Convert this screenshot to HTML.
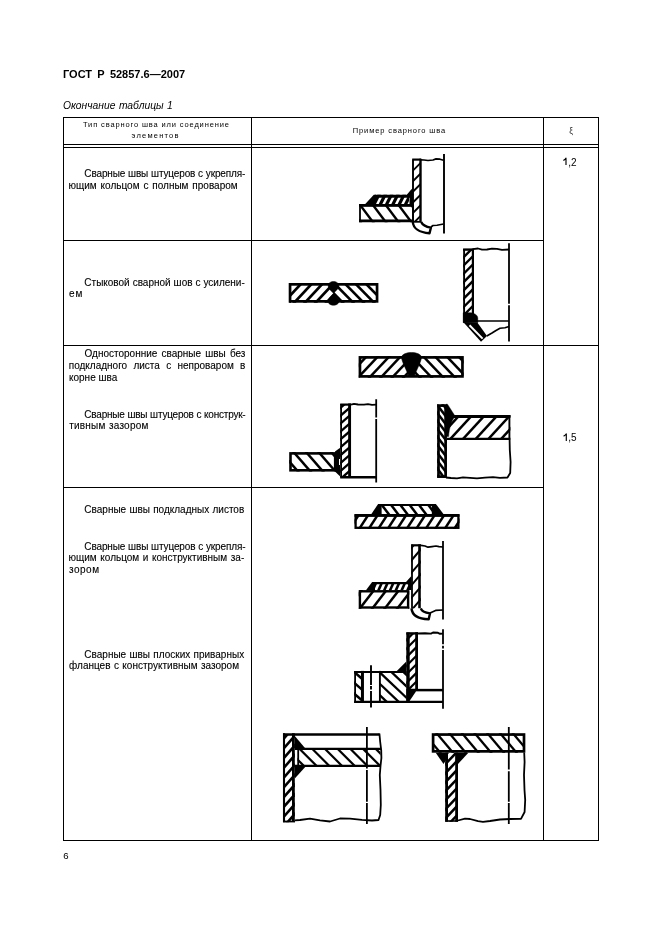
<!DOCTYPE html>
<html><head><meta charset="utf-8">
<style>
html,body{margin:0;padding:0;background:#fff;}
body{width:661px;height:936px;position:relative;overflow:hidden;will-change:transform;font-family:"Liberation Sans",sans-serif;color:#000;}
.t{position:absolute;white-space:pre;line-height:1;}
.b{letter-spacing:0px;-webkit-text-stroke:0.1px #000;}
.j{position:absolute;white-space:nowrap;text-align:justify;text-align-last:justify;line-height:1;letter-spacing:0px;-webkit-text-stroke:0.1px #000;}
.h,.v{position:absolute;background:#000;}
svg{position:absolute;left:0;top:0;}
</style></head><body>
<div class="t" style="left:63px;top:69.39px;font-size:11px;font-weight:bold;word-spacing:2.2px;">ГОСТ Р 52857.6—2007</div>
<div class="t" style="left:63px;top:101.18px;font-size:10.3px;font-style:italic;word-spacing:0.6px;">Окончание таблицы 1</div>
<div class="h" style="left:63px;width:536.25px;top:117px;height:1.25px"></div>
<div class="h" style="left:63px;width:536.25px;top:144px;height:1.25px"></div>
<div class="h" style="left:63px;width:536.25px;top:147px;height:1.25px"></div>
<div class="h" style="left:63px;width:481px;top:240px;height:1.25px"></div>
<div class="h" style="left:63px;width:536.25px;top:345px;height:1.25px"></div>
<div class="h" style="left:63px;width:481px;top:487px;height:1.25px"></div>
<div class="h" style="left:63px;width:536.25px;top:840px;height:1.25px"></div>
<div class="v" style="left:63px;top:117px;height:724.25px;width:1.25px"></div>
<div class="v" style="left:251px;top:117px;height:724.25px;width:1.25px"></div>
<div class="v" style="left:543px;top:117px;height:724.25px;width:1.25px"></div>
<div class="v" style="left:598px;top:117px;height:724.25px;width:1.25px"></div>
<div class="t" style="left:83px;top:120.75px;font-size:7.5px;letter-spacing:0.86px;color:#000;">Тип сварного шва или соединение</div>
<div class="t" style="left:131.6px;top:132.25px;font-size:7.5px;letter-spacing:1.2px;color:#000;">элементов</div>
<div class="t" style="left:352.8px;top:126.95px;font-size:7.5px;letter-spacing:0.88px;color:#000;">Пример сварного шва</div>
<div class="t" style="left:569.3px;top:126.80px;font-size:8.5px;color:#333;">ξ</div>
<div class="t" style="left:568.3px;top:157.53px;font-size:10px;">,2</div>
<div class="t" style="left:568.3px;top:433.44px;font-size:10px;">,5</div>
<div class="j" style="left:84.35px;width:160.9px;top:169.44px;font-size:10.0px;letter-spacing:-0.139px;">Сварные швы штуцеров с укрепля-</div>
<div class="j" style="left:68.55px;width:169.1px;top:181.23px;font-size:10.0px;letter-spacing:0.000px;">ющим кольцом с полным проваром</div>
<div class="j" style="left:84.35px;width:160.4px;top:277.54px;font-size:10.0px;letter-spacing:-0.003px;">Стыковой сварной шов с усилени-</div>
<div class="t b" style="left:69px;top:289.14px;font-size:10.0px;letter-spacing:1px;">ем</div>
<div class="j" style="left:84.55px;width:160.9px;top:349.34px;font-size:10.0px;letter-spacing:0.000px;">Односторонние сварные швы без</div>
<div class="j" style="left:68.75px;width:176.7px;top:361.24px;font-size:10.0px;letter-spacing:0.000px;">подкладного листа с непроваром в</div>
<div class="t b" style="left:69px;top:372.84px;font-size:10.0px;">корне шва</div>
<div class="j" style="left:84.35px;width:161.1px;top:409.64px;font-size:10.0px;letter-spacing:-0.219px;">Сварные швы штуцеров с конструк-</div>
<div class="t b" style="left:69.2px;top:421.44px;font-size:10.0px;letter-spacing:0.2px;word-spacing:-1.2px;">тивным  зазором</div>
<div class="j" style="left:84.35px;width:159.9px;top:505.44px;font-size:10.0px;letter-spacing:0.000px;">Сварные швы подкладных листов</div>
<div class="j" style="left:84.35px;width:161.1px;top:541.74px;font-size:10.0px;letter-spacing:-0.133px;">Сварные швы штуцеров с укрепля-</div>
<div class="j" style="left:68.55px;width:175.7px;top:553.33px;font-size:10.0px;letter-spacing:0.000px;">ющим кольцом и конструктивным за-</div>
<div class="t b" style="left:69px;top:564.83px;font-size:10.0px;letter-spacing:0.5px;">зором</div>
<div class="j" style="left:84.35px;width:159.8px;top:649.74px;font-size:10.0px;letter-spacing:0.000px;">Сварные швы плоских приварных</div>
<div class="j" style="left:69.05px;width:170.0px;top:661.24px;font-size:10.0px;letter-spacing:0.000px;">фланцев с конструктивным зазором</div>
<div class="t" style="left:63.2px;top:850.57px;font-size:9.6px;">6</div>
<svg width="661" height="936" viewBox="0 0 661 936"><defs><clipPath id="c1"><rect x="359.1" y="204.1" width="53.69999999999999" height="18.099999999999994"/></clipPath><clipPath id="c2"><rect x="374.5" y="194.8" width="34.5" height="9.699999999999989"/></clipPath><clipPath id="c3"><rect x="413" y="159.5" width="7.5" height="62.0"/></clipPath><clipPath id="c4"><polygon points="289.4,283 333.5,283 333.5,302.8 289.4,302.8"/></clipPath><clipPath id="c5"><polygon points="333.5,283 378,283 378,302.8 333.5,302.8"/></clipPath><clipPath id="c6"><rect x="463.2" y="249.5" width="9.800000000000011" height="72.5"/></clipPath><clipPath id="c7"><polygon points="358.8,356 411.5,356 411.5,377.8 358.8,377.8"/></clipPath><clipPath id="c8"><polygon points="411.5,356 463.6,356 463.6,377.8 411.5,377.8"/></clipPath><clipPath id="c9"><rect x="289.2" y="452.1" width="46.80000000000001" height="19.5"/></clipPath><clipPath id="c10"><rect x="340.2" y="404" width="9.300000000000011" height="73"/></clipPath><clipPath id="c11"><rect x="437.2" y="404.2" width="9.800000000000011" height="73.60000000000002"/></clipPath><clipPath id="c12"><rect x="447" y="415.1" width="63.39999999999998" height="24.899999999999977"/></clipPath><clipPath id="c13"><rect x="354.5" y="514.2" width="105.0" height="14.799999999999955"/></clipPath><clipPath id="c14"><rect x="380" y="503.9" width="52" height="10.600000000000023"/></clipPath><clipPath id="c15"><rect x="358.7" y="590.1" width="50.60000000000002" height="18.600000000000023"/></clipPath><clipPath id="c16"><rect x="372.5" y="582.1" width="36.5" height="8.399999999999977"/></clipPath><clipPath id="c17"><rect x="411.2" y="545" width="9.600000000000023" height="63.5"/></clipPath><clipPath id="c18"><rect x="354.2" y="670.9" width="7.800000000000011" height="32.0"/></clipPath><clipPath id="c19"><rect x="380" y="670.9" width="26.69999999999999" height="32.0"/></clipPath><clipPath id="c20"><rect x="406.3" y="633" width="10.699999999999989" height="57"/></clipPath><clipPath id="c21"><rect x="283" y="735" width="11.800000000000011" height="87.20000000000005"/></clipPath><clipPath id="c22"><rect x="297.5" y="748" width="83.0" height="18.5"/></clipPath><clipPath id="c23"><rect x="432.1" y="733.2" width="91.89999999999998" height="19.5"/></clipPath><clipPath id="c24"><rect x="445.2" y="752.7" width="12.800000000000011" height="69.0"/></clipPath></defs><path d="M563.4 160.5 L565.1 159.2 L566 158.2 V165" fill="none" stroke="#000" stroke-width="1.15" stroke-linejoin="round"/><path d="M563.6 436.2 L565.4 434.9 L566.3 433.9 V440.9" fill="none" stroke="#000" stroke-width="1.15" stroke-linejoin="round"/><g clip-path="url(#c1)" stroke="#000" stroke-width="2.4"><line x1="306.77" y1="202.1" x2="323.35" y2="224.2"/><line x1="319.57" y1="202.1" x2="336.15" y2="224.2"/><line x1="332.38" y1="202.1" x2="348.95" y2="224.2"/><line x1="345.18" y1="202.1" x2="361.75" y2="224.2"/><line x1="357.98" y1="202.1" x2="374.55" y2="224.2"/><line x1="370.78" y1="202.1" x2="387.35" y2="224.2"/><line x1="383.58" y1="202.1" x2="400.15" y2="224.2"/><line x1="396.38" y1="202.1" x2="412.95" y2="224.2"/><line x1="409.18" y1="202.1" x2="425.75" y2="224.2"/><line x1="421.98" y1="202.1" x2="438.55" y2="224.2"/><line x1="434.78" y1="202.1" x2="451.35" y2="224.2"/><line x1="447.58" y1="202.1" x2="464.15" y2="224.2"/></g><rect x="360" y="205.45" width="53" height="15.4" fill="none" stroke="#000" stroke-width="1.8"/><path d="M359.1 205.45 H412.8" fill="none" stroke="#000" stroke-width="2.7" stroke-linejoin="round"/><path d="M359.1 220.85 H412.8" fill="none" stroke="#000" stroke-width="2.7" stroke-linejoin="round"/><g clip-path="url(#c2)" stroke="#000" stroke-width="3.2"><line x1="354.05" y1="206.5" x2="360.90" y2="192.8"/><line x1="360.35" y1="206.5" x2="367.20" y2="192.8"/><line x1="366.65" y1="206.5" x2="373.50" y2="192.8"/><line x1="372.95" y1="206.5" x2="379.80" y2="192.8"/><line x1="379.25" y1="206.5" x2="386.10" y2="192.8"/><line x1="385.55" y1="206.5" x2="392.40" y2="192.8"/><line x1="391.85" y1="206.5" x2="398.70" y2="192.8"/><line x1="398.15" y1="206.5" x2="405.00" y2="192.8"/><line x1="404.45" y1="206.5" x2="411.30" y2="192.8"/><line x1="410.75" y1="206.5" x2="417.60" y2="192.8"/><line x1="417.05" y1="206.5" x2="423.90" y2="192.8"/><line x1="423.35" y1="206.5" x2="430.20" y2="192.8"/></g><path d="M375 196.3 H412" fill="none" stroke="#000" stroke-width="3.0" stroke-linejoin="round"/><polygon points="364.8,204.5 373.8,194.8 376,194.8 376,204.5" fill="#000"/><polygon points="409.5,204.5 409.5,197.5 406.8,194.8 410.8,190 413,188 413,204.5" fill="#000"/><g clip-path="url(#c3)" stroke="#000" stroke-width="1.9"><line x1="317.60" y1="223.5" x2="383.60" y2="157.5"/><line x1="328.20" y1="223.5" x2="394.20" y2="157.5"/><line x1="338.80" y1="223.5" x2="404.80" y2="157.5"/><line x1="349.40" y1="223.5" x2="415.40" y2="157.5"/><line x1="360.00" y1="223.5" x2="426.00" y2="157.5"/><line x1="370.60" y1="223.5" x2="436.60" y2="157.5"/><line x1="381.20" y1="223.5" x2="447.20" y2="157.5"/><line x1="391.80" y1="223.5" x2="457.80" y2="157.5"/><line x1="402.40" y1="223.5" x2="468.40" y2="157.5"/><line x1="413.00" y1="223.5" x2="479.00" y2="157.5"/><line x1="423.60" y1="223.5" x2="489.60" y2="157.5"/><line x1="434.20" y1="223.5" x2="500.20" y2="157.5"/><line x1="444.80" y1="223.5" x2="510.80" y2="157.5"/><line x1="455.40" y1="223.5" x2="521.40" y2="157.5"/><line x1="466.00" y1="223.5" x2="532.00" y2="157.5"/><line x1="476.60" y1="223.5" x2="542.60" y2="157.5"/><line x1="487.20" y1="223.5" x2="553.20" y2="157.5"/><line x1="497.80" y1="223.5" x2="563.80" y2="157.5"/></g><path d="M413 159.5 V222" fill="none" stroke="#000" stroke-width="1.9" stroke-linejoin="round"/><path d="M420.5 158.7 V222" fill="none" stroke="#000" stroke-width="2.4" stroke-linejoin="round"/><path d="M412.2 159.6 H421" fill="none" stroke="#000" stroke-width="2.2" stroke-linejoin="round"/><path d="M413 221.8 H421" fill="none" stroke="#000" stroke-width="1.8" stroke-linejoin="round"/><path d="M421 159.8 L424 160 L428 160.5 L433 160 L436 158.9 L440 159.2 L443.5 160.2" fill="none" stroke="#000" stroke-width="1.7" stroke-linejoin="round"/><path d="M444 154 V233.4" fill="none" stroke="#000" stroke-width="1.9" stroke-linejoin="round"/><path d="M412.8 222 C413.2 228 419 232.5 429.5 233.2 L430.9 227.6 C426 226.8 422.5 225 421.2 222" fill="none" stroke="#000" stroke-width="2.4" stroke-linejoin="round"/><path d="M431 227 L433 225.5 L437 225.2 L443.5 224" fill="none" stroke="#000" stroke-width="1.6" stroke-linejoin="round"/><g clip-path="url(#c4)" stroke="#000" stroke-width="2.7"><line x1="238.74" y1="304.8" x2="260.87" y2="281"/><line x1="249.44" y1="304.8" x2="271.57" y2="281"/><line x1="260.14" y1="304.8" x2="282.27" y2="281"/><line x1="270.84" y1="304.8" x2="292.97" y2="281"/><line x1="281.54" y1="304.8" x2="303.67" y2="281"/><line x1="292.24" y1="304.8" x2="314.37" y2="281"/><line x1="302.94" y1="304.8" x2="325.07" y2="281"/><line x1="313.64" y1="304.8" x2="335.77" y2="281"/><line x1="324.34" y1="304.8" x2="346.47" y2="281"/><line x1="335.04" y1="304.8" x2="357.17" y2="281"/><line x1="345.74" y1="304.8" x2="367.87" y2="281"/><line x1="356.44" y1="304.8" x2="378.57" y2="281"/><line x1="367.14" y1="304.8" x2="389.27" y2="281"/><line x1="377.84" y1="304.8" x2="399.97" y2="281"/><line x1="388.54" y1="304.8" x2="410.67" y2="281"/><line x1="399.24" y1="304.8" x2="421.37" y2="281"/><line x1="409.94" y1="304.8" x2="432.07" y2="281"/><line x1="420.64" y1="304.8" x2="442.77" y2="281"/></g><g clip-path="url(#c5)" stroke="#000" stroke-width="2.6"><line x1="238.39" y1="281" x2="261.72" y2="304.8"/><line x1="248.79" y1="281" x2="272.12" y2="304.8"/><line x1="259.19" y1="281" x2="282.52" y2="304.8"/><line x1="269.59" y1="281" x2="292.92" y2="304.8"/><line x1="279.99" y1="281" x2="303.32" y2="304.8"/><line x1="290.39" y1="281" x2="313.72" y2="304.8"/><line x1="300.79" y1="281" x2="324.12" y2="304.8"/><line x1="311.19" y1="281" x2="334.52" y2="304.8"/><line x1="321.59" y1="281" x2="344.92" y2="304.8"/><line x1="331.99" y1="281" x2="355.32" y2="304.8"/><line x1="342.39" y1="281" x2="365.72" y2="304.8"/><line x1="352.79" y1="281" x2="376.12" y2="304.8"/><line x1="363.19" y1="281" x2="386.52" y2="304.8"/><line x1="373.59" y1="281" x2="396.92" y2="304.8"/><line x1="383.99" y1="281" x2="407.32" y2="304.8"/><line x1="394.39" y1="281" x2="417.72" y2="304.8"/><line x1="404.79" y1="281" x2="428.12" y2="304.8"/><line x1="415.19" y1="281" x2="438.52" y2="304.8"/></g><rect x="290.05" y="284.35" width="87" height="17" fill="none" stroke="#000" stroke-width="2.7"/><rect x="289.4" y="283" width="1.6" height="19.8" fill="#000"/><path d="M328.2 286 C328 280 339 280 338.8 286 C338.6 289.5 335 291 333.5 293.5 C335 296 338.8 298 338.8 301.5 C338.8 306.5 328.2 306.5 328.2 301.5 C328.2 298 332 296 333.5 293.5 C332 291 328.4 289.5 328.2 286 Z" fill="#000" stroke="#000" stroke-width="0.5" stroke-linejoin="round"/><g clip-path="url(#c6)" stroke="#000" stroke-width="2.4"><line x1="363.60" y1="324" x2="440.10" y2="247.5"/><line x1="371.90" y1="324" x2="448.40" y2="247.5"/><line x1="380.20" y1="324" x2="456.70" y2="247.5"/><line x1="388.50" y1="324" x2="465.00" y2="247.5"/><line x1="396.80" y1="324" x2="473.30" y2="247.5"/><line x1="405.10" y1="324" x2="481.60" y2="247.5"/><line x1="413.40" y1="324" x2="489.90" y2="247.5"/><line x1="421.70" y1="324" x2="498.20" y2="247.5"/><line x1="430.00" y1="324" x2="506.50" y2="247.5"/><line x1="438.30" y1="324" x2="514.80" y2="247.5"/><line x1="446.60" y1="324" x2="523.10" y2="247.5"/><line x1="454.90" y1="324" x2="531.40" y2="247.5"/><line x1="463.20" y1="324" x2="539.70" y2="247.5"/><line x1="471.50" y1="324" x2="548.00" y2="247.5"/><line x1="479.80" y1="324" x2="556.30" y2="247.5"/><line x1="488.10" y1="324" x2="564.60" y2="247.5"/><line x1="496.40" y1="324" x2="572.90" y2="247.5"/><line x1="504.70" y1="324" x2="581.20" y2="247.5"/><line x1="513.00" y1="324" x2="589.50" y2="247.5"/><line x1="521.30" y1="324" x2="597.80" y2="247.5"/><line x1="529.60" y1="324" x2="606.10" y2="247.5"/><line x1="537.90" y1="324" x2="614.40" y2="247.5"/><line x1="546.20" y1="324" x2="622.70" y2="247.5"/><line x1="554.50" y1="324" x2="631.00" y2="247.5"/><line x1="562.80" y1="324" x2="639.30" y2="247.5"/></g><path d="M464.1 249 V322.5" fill="none" stroke="#000" stroke-width="1.9" stroke-linejoin="round"/><path d="M472.9 248.5 V322" fill="none" stroke="#000" stroke-width="2.2" stroke-linejoin="round"/><path d="M463.1 249.6 H473.5" fill="none" stroke="#000" stroke-width="2.4" stroke-linejoin="round"/><path d="M473 249.2 L478 248.5 L482 249.7 L487 249.5 L492 248.6 L497 248.8 L502 249.8 L509 249.5" fill="none" stroke="#000" stroke-width="1.8" stroke-linejoin="round"/><path d="M509 243.2 V303.8 M509 305.2 V341.6" fill="none" stroke="#000" stroke-width="1.8" stroke-linejoin="round"/><path d="M473 321 H509" fill="none" stroke="#000" stroke-width="1.7" stroke-linejoin="round"/><path d="M463.2 312.7 L471 312.7 C475 313.5 477.8 315 477.8 318.5 L477.8 322.7 L463.2 322.7 Z" fill="#000" stroke="#000" stroke-width="0.4" stroke-linejoin="round"/><polygon points="463.2,322 481,341.7 487,336 477.5,322.7" fill="#000"/><line x1="469.5" y1="325.2" x2="482.6" y2="338.6" stroke="#fff" stroke-width="2.0"/><path d="M486.8 336 L492 333 L496 330.5 L500 328.3 L505 327.8 L509 326.5" fill="none" stroke="#000" stroke-width="1.6" stroke-linejoin="round"/><g clip-path="url(#c7)" stroke="#000" stroke-width="2.5"><line x1="310.60" y1="379.8" x2="334.85" y2="354"/><line x1="321.95" y1="379.8" x2="346.20" y2="354"/><line x1="333.30" y1="379.8" x2="357.55" y2="354"/><line x1="344.65" y1="379.8" x2="368.90" y2="354"/><line x1="356.00" y1="379.8" x2="380.25" y2="354"/><line x1="367.35" y1="379.8" x2="391.60" y2="354"/><line x1="378.70" y1="379.8" x2="402.95" y2="354"/><line x1="390.05" y1="379.8" x2="414.30" y2="354"/><line x1="401.40" y1="379.8" x2="425.65" y2="354"/><line x1="412.75" y1="379.8" x2="437.00" y2="354"/><line x1="424.10" y1="379.8" x2="448.35" y2="354"/><line x1="435.45" y1="379.8" x2="459.70" y2="354"/><line x1="446.80" y1="379.8" x2="471.05" y2="354"/><line x1="458.15" y1="379.8" x2="482.40" y2="354"/><line x1="469.50" y1="379.8" x2="493.75" y2="354"/><line x1="480.85" y1="379.8" x2="505.10" y2="354"/><line x1="492.20" y1="379.8" x2="516.45" y2="354"/><line x1="503.55" y1="379.8" x2="527.80" y2="354"/></g><g clip-path="url(#c8)" stroke="#000" stroke-width="2.5"><line x1="304.03" y1="354" x2="328.54" y2="379.8"/><line x1="315.73" y1="354" x2="340.24" y2="379.8"/><line x1="327.43" y1="354" x2="351.94" y2="379.8"/><line x1="339.12" y1="354" x2="363.63" y2="379.8"/><line x1="350.82" y1="354" x2="375.33" y2="379.8"/><line x1="362.52" y1="354" x2="387.03" y2="379.8"/><line x1="374.22" y1="354" x2="398.73" y2="379.8"/><line x1="385.92" y1="354" x2="410.43" y2="379.8"/><line x1="397.62" y1="354" x2="422.13" y2="379.8"/><line x1="409.32" y1="354" x2="433.83" y2="379.8"/><line x1="421.02" y1="354" x2="445.53" y2="379.8"/><line x1="432.72" y1="354" x2="457.23" y2="379.8"/><line x1="444.42" y1="354" x2="468.93" y2="379.8"/><line x1="456.12" y1="354" x2="480.63" y2="379.8"/><line x1="467.82" y1="354" x2="492.33" y2="379.8"/><line x1="479.52" y1="354" x2="504.03" y2="379.8"/><line x1="491.22" y1="354" x2="515.73" y2="379.8"/><line x1="502.92" y1="354" x2="527.43" y2="379.8"/></g><rect x="359.95" y="357.4" width="102.5" height="19" fill="none" stroke="#000" stroke-width="2.7"/><path d="M401.6 357.5 C401.6 350.8 421.4 350.8 421.4 357.5 C421.4 361 418 367 414.3 376 L408.8 376 C405 367 401.6 361 401.6 357.5 Z" fill="#000" stroke="#000" stroke-width="0.5" stroke-linejoin="round"/><g clip-path="url(#c9)" stroke="#000" stroke-width="2.5"><line x1="241.91" y1="450.1" x2="262.36" y2="473.6"/><line x1="254.41" y1="450.1" x2="274.86" y2="473.6"/><line x1="266.91" y1="450.1" x2="287.36" y2="473.6"/><line x1="279.41" y1="450.1" x2="299.86" y2="473.6"/><line x1="291.91" y1="450.1" x2="312.36" y2="473.6"/><line x1="304.41" y1="450.1" x2="324.86" y2="473.6"/><line x1="316.91" y1="450.1" x2="337.36" y2="473.6"/><line x1="329.41" y1="450.1" x2="349.86" y2="473.6"/><line x1="341.91" y1="450.1" x2="362.36" y2="473.6"/><line x1="354.41" y1="450.1" x2="374.86" y2="473.6"/><line x1="366.91" y1="450.1" x2="387.36" y2="473.6"/><line x1="379.41" y1="450.1" x2="399.86" y2="473.6"/></g><rect x="290.5" y="453.40000000000003" width="44.70000000000001" height="16.9" fill="none" stroke="#000" stroke-width="2.6"/><polygon points="335,451.6 340.2,447.7 340.2,476.5 335,471.6" fill="#000"/><rect x="339" y="459" width="1.1" height="6" fill="#fff"/><g clip-path="url(#c10)" stroke="#000" stroke-width="2.3"><line x1="231.37" y1="479" x2="319.92" y2="402"/><line x1="240.46" y1="479" x2="329.00" y2="402"/><line x1="249.54" y1="479" x2="338.09" y2="402"/><line x1="258.62" y1="479" x2="347.18" y2="402"/><line x1="267.71" y1="479" x2="356.26" y2="402"/><line x1="276.79" y1="479" x2="365.34" y2="402"/><line x1="285.88" y1="479" x2="374.43" y2="402"/><line x1="294.96" y1="479" x2="383.51" y2="402"/><line x1="304.05" y1="479" x2="392.60" y2="402"/><line x1="313.13" y1="479" x2="401.68" y2="402"/><line x1="322.22" y1="479" x2="410.77" y2="402"/><line x1="331.30" y1="479" x2="419.85" y2="402"/><line x1="340.39" y1="479" x2="428.94" y2="402"/><line x1="349.47" y1="479" x2="438.02" y2="402"/><line x1="358.56" y1="479" x2="447.11" y2="402"/><line x1="367.64" y1="479" x2="456.19" y2="402"/><line x1="376.73" y1="479" x2="465.28" y2="402"/><line x1="385.81" y1="479" x2="474.36" y2="402"/><line x1="394.90" y1="479" x2="483.45" y2="402"/><line x1="403.98" y1="479" x2="492.53" y2="402"/><line x1="413.07" y1="479" x2="501.62" y2="402"/><line x1="422.15" y1="479" x2="510.70" y2="402"/><line x1="431.24" y1="479" x2="519.79" y2="402"/><line x1="440.32" y1="479" x2="528.87" y2="402"/><line x1="449.41" y1="479" x2="537.96" y2="402"/></g><path d="M341.1 404 V477.5" fill="none" stroke="#000" stroke-width="1.8" stroke-linejoin="round"/><path d="M349.6 403.5 V477" fill="none" stroke="#000" stroke-width="2.9" stroke-linejoin="round"/><path d="M340.2 404.6 H351" fill="none" stroke="#000" stroke-width="2.2" stroke-linejoin="round"/><path d="M351 404.6 L354 403.9 L358 404.5 L364 404.6 L368 404.1 L372 404.8 L376 404.6" fill="none" stroke="#000" stroke-width="1.8" stroke-linejoin="round"/><path d="M340.2 477.25 H376.5" fill="none" stroke="#000" stroke-width="2.7" stroke-linejoin="round"/><path d="M376.2 399.2 V417.5 M376.2 419.1 V482.4" fill="none" stroke="#000" stroke-width="1.8" stroke-linejoin="round"/><g clip-path="url(#c11)" stroke="#000" stroke-width="2.5"><line x1="363.71" y1="402.2" x2="421.91" y2="479.8"/><line x1="369.67" y1="402.2" x2="427.87" y2="479.8"/><line x1="375.62" y1="402.2" x2="433.83" y2="479.8"/><line x1="381.58" y1="402.2" x2="439.78" y2="479.8"/><line x1="387.54" y1="402.2" x2="445.75" y2="479.8"/><line x1="393.50" y1="402.2" x2="451.70" y2="479.8"/><line x1="399.46" y1="402.2" x2="457.66" y2="479.8"/><line x1="405.42" y1="402.2" x2="463.62" y2="479.8"/><line x1="411.38" y1="402.2" x2="469.58" y2="479.8"/><line x1="417.34" y1="402.2" x2="475.54" y2="479.8"/><line x1="423.30" y1="402.2" x2="481.50" y2="479.8"/><line x1="429.26" y1="402.2" x2="487.46" y2="479.8"/><line x1="435.22" y1="402.2" x2="493.42" y2="479.8"/><line x1="441.18" y1="402.2" x2="499.38" y2="479.8"/><line x1="447.14" y1="402.2" x2="505.34" y2="479.8"/><line x1="453.10" y1="402.2" x2="511.30" y2="479.8"/><line x1="459.06" y1="402.2" x2="517.26" y2="479.8"/><line x1="465.02" y1="402.2" x2="523.22" y2="479.8"/><line x1="470.98" y1="402.2" x2="529.18" y2="479.8"/><line x1="476.94" y1="402.2" x2="535.14" y2="479.8"/><line x1="482.90" y1="402.2" x2="541.10" y2="479.8"/><line x1="488.86" y1="402.2" x2="547.06" y2="479.8"/><line x1="494.82" y1="402.2" x2="553.02" y2="479.8"/><line x1="500.78" y1="402.2" x2="558.98" y2="479.8"/><line x1="506.74" y1="402.2" x2="564.94" y2="479.8"/><line x1="512.70" y1="402.2" x2="570.90" y2="479.8"/></g><rect x="438.5" y="405.6" width="7.1" height="71" fill="none" stroke="#000" stroke-width="2.7"/><g clip-path="url(#c12)" stroke="#000" stroke-width="2.5"><line x1="384.04" y1="442" x2="410.62" y2="413.1"/><line x1="396.74" y1="442" x2="423.32" y2="413.1"/><line x1="409.44" y1="442" x2="436.02" y2="413.1"/><line x1="422.14" y1="442" x2="448.72" y2="413.1"/><line x1="434.84" y1="442" x2="461.42" y2="413.1"/><line x1="447.54" y1="442" x2="474.12" y2="413.1"/><line x1="460.24" y1="442" x2="486.82" y2="413.1"/><line x1="472.94" y1="442" x2="499.52" y2="413.1"/><line x1="485.64" y1="442" x2="512.22" y2="413.1"/><line x1="498.34" y1="442" x2="524.92" y2="413.1"/><line x1="511.04" y1="442" x2="537.62" y2="413.1"/><line x1="523.74" y1="442" x2="550.32" y2="413.1"/><line x1="536.44" y1="442" x2="563.02" y2="413.1"/><line x1="549.14" y1="442" x2="575.72" y2="413.1"/><line x1="561.84" y1="442" x2="588.42" y2="413.1"/></g><path d="M447 416.6 H510.4" fill="none" stroke="#000" stroke-width="3.0" stroke-linejoin="round"/><path d="M447 438.9 H510.4" fill="none" stroke="#000" stroke-width="2.2" stroke-linejoin="round"/><path d="M509.4 415.5 V440" fill="none" stroke="#000" stroke-width="1.9" stroke-linejoin="round"/><path d="M446 404.2 L447.5 404.2 L454.4 415 L454.4 417.5 C451.5 420.5 449.3 428 448.6 436.5 L446 436.5 Z" fill="#000" stroke="#000" stroke-width="0.4" stroke-linejoin="round"/><path d="M509.6 440 L509.8 450 L510.6 462 L510.2 473 L507.5 477.5 L500 477.8 L493 477.2 L485 477.6 L477 478.3 L470 477.9 L463 477.4 L457 478.3 L451 478 L446 477.5" fill="none" stroke="#000" stroke-width="1.8" stroke-linejoin="round"/><g clip-path="url(#c13)" stroke="#000" stroke-width="2.5"><line x1="319.84" y1="531" x2="332.06" y2="512.2"/><line x1="329.34" y1="531" x2="341.56" y2="512.2"/><line x1="338.84" y1="531" x2="351.06" y2="512.2"/><line x1="348.34" y1="531" x2="360.56" y2="512.2"/><line x1="357.84" y1="531" x2="370.06" y2="512.2"/><line x1="367.34" y1="531" x2="379.56" y2="512.2"/><line x1="376.84" y1="531" x2="389.06" y2="512.2"/><line x1="386.34" y1="531" x2="398.56" y2="512.2"/><line x1="395.84" y1="531" x2="408.06" y2="512.2"/><line x1="405.34" y1="531" x2="417.56" y2="512.2"/><line x1="414.84" y1="531" x2="427.06" y2="512.2"/><line x1="424.34" y1="531" x2="436.56" y2="512.2"/><line x1="433.84" y1="531" x2="446.06" y2="512.2"/><line x1="443.34" y1="531" x2="455.56" y2="512.2"/><line x1="452.84" y1="531" x2="465.06" y2="512.2"/><line x1="462.34" y1="531" x2="474.56" y2="512.2"/><line x1="471.84" y1="531" x2="484.06" y2="512.2"/><line x1="481.34" y1="531" x2="493.56" y2="512.2"/></g><rect x="355.6" y="515.5" width="102.8" height="12.3" fill="none" stroke="#000" stroke-width="2.3"/><path d="M354.5 515.3 H459.5" fill="none" stroke="#000" stroke-width="2.7" stroke-linejoin="round"/><g clip-path="url(#c14)" stroke="#000" stroke-width="2.5"><line x1="342.28" y1="501.9" x2="353.38" y2="516.5"/><line x1="351.58" y1="501.9" x2="362.68" y2="516.5"/><line x1="360.88" y1="501.9" x2="371.98" y2="516.5"/><line x1="370.18" y1="501.9" x2="381.28" y2="516.5"/><line x1="379.48" y1="501.9" x2="390.58" y2="516.5"/><line x1="388.78" y1="501.9" x2="399.88" y2="516.5"/><line x1="398.08" y1="501.9" x2="409.18" y2="516.5"/><line x1="407.38" y1="501.9" x2="418.48" y2="516.5"/><line x1="416.68" y1="501.9" x2="427.78" y2="516.5"/><line x1="425.98" y1="501.9" x2="437.08" y2="516.5"/><line x1="435.28" y1="501.9" x2="446.38" y2="516.5"/><line x1="444.58" y1="501.9" x2="455.68" y2="516.5"/><line x1="453.88" y1="501.9" x2="464.98" y2="516.5"/></g><path d="M378 505 H436" fill="none" stroke="#000" stroke-width="2.2" stroke-linejoin="round"/><polygon points="370.9,514.8 378.1,503.9 381.6,503.9 381.6,514.8" fill="#000"/><polygon points="431.8,503.9 435.9,503.9 444,514.8 431.8,514.8" fill="#000"/><g clip-path="url(#c15)" stroke="#000" stroke-width="2.5"><line x1="308.14" y1="610.7" x2="325.54" y2="588.1"/><line x1="320.64" y1="610.7" x2="338.04" y2="588.1"/><line x1="333.14" y1="610.7" x2="350.54" y2="588.1"/><line x1="345.64" y1="610.7" x2="363.04" y2="588.1"/><line x1="358.14" y1="610.7" x2="375.54" y2="588.1"/><line x1="370.64" y1="610.7" x2="388.04" y2="588.1"/><line x1="383.14" y1="610.7" x2="400.54" y2="588.1"/><line x1="395.64" y1="610.7" x2="413.04" y2="588.1"/><line x1="408.14" y1="610.7" x2="425.54" y2="588.1"/><line x1="420.64" y1="610.7" x2="438.04" y2="588.1"/><line x1="433.14" y1="610.7" x2="450.54" y2="588.1"/><line x1="445.64" y1="610.7" x2="463.04" y2="588.1"/></g><rect x="359.9" y="591.3000000000001" width="48.200000000000024" height="16.200000000000024" fill="none" stroke="#000" stroke-width="2.4"/><g clip-path="url(#c16)" stroke="#000" stroke-width="2.6"><line x1="354.27" y1="592.5" x2="359.85" y2="580.1"/><line x1="360.07" y1="592.5" x2="365.65" y2="580.1"/><line x1="365.87" y1="592.5" x2="371.45" y2="580.1"/><line x1="371.67" y1="592.5" x2="377.25" y2="580.1"/><line x1="377.47" y1="592.5" x2="383.05" y2="580.1"/><line x1="383.27" y1="592.5" x2="388.85" y2="580.1"/><line x1="389.07" y1="592.5" x2="394.65" y2="580.1"/><line x1="394.87" y1="592.5" x2="400.45" y2="580.1"/><line x1="400.67" y1="592.5" x2="406.25" y2="580.1"/><line x1="406.47" y1="592.5" x2="412.05" y2="580.1"/><line x1="412.27" y1="592.5" x2="417.85" y2="580.1"/><line x1="418.07" y1="592.5" x2="423.65" y2="580.1"/><line x1="423.87" y1="592.5" x2="429.45" y2="580.1"/></g><path d="M372.5 583.2 H410" fill="none" stroke="#000" stroke-width="2.3" stroke-linejoin="round"/><polygon points="365.8,590.6 372.1,582.1 375,582.1 375,590.6" fill="#000"/><polygon points="408.3,590 408.3,585 406,582.1 410.7,576.7 411.5,576 411.5,590" fill="#000"/><g clip-path="url(#c17)" stroke="#000" stroke-width="2.0"><line x1="326.40" y1="610.5" x2="383.77" y2="543"/><line x1="337.00" y1="610.5" x2="394.38" y2="543"/><line x1="347.60" y1="610.5" x2="404.98" y2="543"/><line x1="358.20" y1="610.5" x2="415.58" y2="543"/><line x1="368.80" y1="610.5" x2="426.18" y2="543"/><line x1="379.40" y1="610.5" x2="436.78" y2="543"/><line x1="390.00" y1="610.5" x2="447.38" y2="543"/><line x1="400.60" y1="610.5" x2="457.98" y2="543"/><line x1="411.20" y1="610.5" x2="468.58" y2="543"/><line x1="421.80" y1="610.5" x2="479.18" y2="543"/><line x1="432.40" y1="610.5" x2="489.78" y2="543"/><line x1="443.00" y1="610.5" x2="500.38" y2="543"/><line x1="453.60" y1="610.5" x2="510.98" y2="543"/><line x1="464.20" y1="610.5" x2="521.58" y2="543"/><line x1="474.80" y1="610.5" x2="532.18" y2="543"/><line x1="485.40" y1="610.5" x2="542.78" y2="543"/><line x1="496.00" y1="610.5" x2="553.38" y2="543"/></g><path d="M412 544.6 V608.5" fill="none" stroke="#000" stroke-width="1.8" stroke-linejoin="round"/><path d="M419.5 544.4 V608.2" fill="none" stroke="#000" stroke-width="2.6" stroke-linejoin="round"/><path d="M411.2 545.3 H421" fill="none" stroke="#000" stroke-width="2.2" stroke-linejoin="round"/><path d="M421 545.3 L425 546 L428 547.2 L432 546.6 L436 546 L439 546.7 L443 547" fill="none" stroke="#000" stroke-width="1.7" stroke-linejoin="round"/><path d="M443 541 V619.5" fill="none" stroke="#000" stroke-width="1.8" stroke-linejoin="round"/><path d="M411.5 608.3 C412 614.5 417 618.8 428.7 619.2 L430 613.4 C425 612.6 421.5 610.5 420.8 608.3" fill="none" stroke="#000" stroke-width="2.4" stroke-linejoin="round"/><path d="M430 613 L435.6 610.4 L443 610" fill="none" stroke="#000" stroke-width="1.6" stroke-linejoin="round"/><g clip-path="url(#c18)" stroke="#000" stroke-width="2.5"><line x1="275.70" y1="668.9" x2="317.10" y2="704.9"/><line x1="288.20" y1="668.9" x2="329.60" y2="704.9"/><line x1="300.70" y1="668.9" x2="342.10" y2="704.9"/><line x1="313.20" y1="668.9" x2="354.60" y2="704.9"/><line x1="325.70" y1="668.9" x2="367.10" y2="704.9"/><line x1="338.20" y1="668.9" x2="379.60" y2="704.9"/><line x1="350.70" y1="668.9" x2="392.10" y2="704.9"/><line x1="363.20" y1="668.9" x2="404.60" y2="704.9"/><line x1="375.70" y1="668.9" x2="417.10" y2="704.9"/><line x1="388.20" y1="668.9" x2="429.60" y2="704.9"/><line x1="400.70" y1="668.9" x2="442.10" y2="704.9"/><line x1="413.20" y1="668.9" x2="454.60" y2="704.9"/><line x1="425.70" y1="668.9" x2="467.10" y2="704.9"/></g><g clip-path="url(#c19)" stroke="#000" stroke-width="2.3"><line x1="316.16" y1="668.9" x2="353.96" y2="704.9"/><line x1="328.16" y1="668.9" x2="365.96" y2="704.9"/><line x1="340.16" y1="668.9" x2="377.96" y2="704.9"/><line x1="352.16" y1="668.9" x2="389.96" y2="704.9"/><line x1="364.16" y1="668.9" x2="401.96" y2="704.9"/><line x1="376.16" y1="668.9" x2="413.96" y2="704.9"/><line x1="388.16" y1="668.9" x2="425.96" y2="704.9"/><line x1="400.16" y1="668.9" x2="437.96" y2="704.9"/><line x1="412.16" y1="668.9" x2="449.96" y2="704.9"/><line x1="424.16" y1="668.9" x2="461.96" y2="704.9"/><line x1="436.16" y1="668.9" x2="473.96" y2="704.9"/><line x1="448.16" y1="668.9" x2="485.96" y2="704.9"/><line x1="460.16" y1="668.9" x2="497.96" y2="704.9"/></g><path d="M354.2 671.95 H406.7 M354.2 701.85 H443" fill="none" stroke="#000" stroke-width="2.1" stroke-linejoin="round"/><path d="M355.1 670.9 V702.9" fill="none" stroke="#000" stroke-width="1.8" stroke-linejoin="round"/><path d="M362.45 670.9 V702.9" fill="none" stroke="#000" stroke-width="3.0" stroke-linejoin="round"/><path d="M379.9 670.9 V702.9" fill="none" stroke="#000" stroke-width="1.9" stroke-linejoin="round"/><path d="M371 665.2 V685 M371 686.1 V689.5 M371 690.9 V707.5" fill="none" stroke="#000" stroke-width="1.9" stroke-linejoin="round"/><polygon points="396.8,671 406.3,661.4 406.3,671" fill="#000"/><g clip-path="url(#c20)" stroke="#000" stroke-width="2.2"><line x1="320.00" y1="692" x2="381.00" y2="631"/><line x1="328.60" y1="692" x2="389.60" y2="631"/><line x1="337.20" y1="692" x2="398.20" y2="631"/><line x1="345.80" y1="692" x2="406.80" y2="631"/><line x1="354.40" y1="692" x2="415.40" y2="631"/><line x1="363.00" y1="692" x2="424.00" y2="631"/><line x1="371.60" y1="692" x2="432.60" y2="631"/><line x1="380.20" y1="692" x2="441.20" y2="631"/><line x1="388.80" y1="692" x2="449.80" y2="631"/><line x1="397.40" y1="692" x2="458.40" y2="631"/><line x1="406.00" y1="692" x2="467.00" y2="631"/><line x1="414.60" y1="692" x2="475.60" y2="631"/><line x1="423.20" y1="692" x2="484.20" y2="631"/><line x1="431.80" y1="692" x2="492.80" y2="631"/><line x1="440.40" y1="692" x2="501.40" y2="631"/><line x1="449.00" y1="692" x2="510.00" y2="631"/><line x1="457.60" y1="692" x2="518.60" y2="631"/><line x1="466.20" y1="692" x2="527.20" y2="631"/><line x1="474.80" y1="692" x2="535.80" y2="631"/><line x1="483.40" y1="692" x2="544.40" y2="631"/><line x1="492.00" y1="692" x2="553.00" y2="631"/></g><path d="M408 632.5 V702" fill="none" stroke="#000" stroke-width="3.4" stroke-linejoin="round"/><path d="M416.6 632.2 V690" fill="none" stroke="#000" stroke-width="2.8" stroke-linejoin="round"/><path d="M406.3 633.4 H418" fill="none" stroke="#000" stroke-width="2.4" stroke-linejoin="round"/><path d="M418 633.5 L425 633.3 L431 633.6 L433 632.5 L438 632.8 L440 633.8 L443 633.6" fill="none" stroke="#000" stroke-width="1.9" stroke-linejoin="round"/><path d="M443 629.3 V644.2 M443 645.7 V648.5 M443 650 V708.7" fill="none" stroke="#000" stroke-width="1.8" stroke-linejoin="round"/><path d="M415 690.1 H443" fill="none" stroke="#000" stroke-width="2.5" stroke-linejoin="round"/><polygon points="406.3,688.8 415.8,688.8 415.8,691.7 409.7,700.8 406.3,700.8" fill="#000"/><g clip-path="url(#c21)" stroke="#000" stroke-width="2.6"><line x1="182.59" y1="824.2" x2="262.84" y2="733"/><line x1="191.19" y1="824.2" x2="271.44" y2="733"/><line x1="199.79" y1="824.2" x2="280.04" y2="733"/><line x1="208.39" y1="824.2" x2="288.64" y2="733"/><line x1="216.99" y1="824.2" x2="297.24" y2="733"/><line x1="225.59" y1="824.2" x2="305.84" y2="733"/><line x1="234.19" y1="824.2" x2="314.44" y2="733"/><line x1="242.79" y1="824.2" x2="323.04" y2="733"/><line x1="251.39" y1="824.2" x2="331.64" y2="733"/><line x1="259.99" y1="824.2" x2="340.24" y2="733"/><line x1="268.59" y1="824.2" x2="348.84" y2="733"/><line x1="277.19" y1="824.2" x2="357.44" y2="733"/><line x1="285.79" y1="824.2" x2="366.04" y2="733"/><line x1="294.39" y1="824.2" x2="374.64" y2="733"/><line x1="302.99" y1="824.2" x2="383.24" y2="733"/><line x1="311.59" y1="824.2" x2="391.84" y2="733"/><line x1="320.19" y1="824.2" x2="400.44" y2="733"/><line x1="328.79" y1="824.2" x2="409.04" y2="733"/><line x1="337.39" y1="824.2" x2="417.64" y2="733"/><line x1="345.99" y1="824.2" x2="426.24" y2="733"/><line x1="354.59" y1="824.2" x2="434.84" y2="733"/><line x1="363.19" y1="824.2" x2="443.44" y2="733"/><line x1="371.79" y1="824.2" x2="452.04" y2="733"/><line x1="380.39" y1="824.2" x2="460.64" y2="733"/><line x1="388.99" y1="824.2" x2="469.24" y2="733"/></g><path d="M284 733.2 V822.2" fill="none" stroke="#000" stroke-width="2.1" stroke-linejoin="round"/><path d="M293.4 733.2 V822" fill="none" stroke="#000" stroke-width="2.8" stroke-linejoin="round"/><path d="M283 734.5 H379.6" fill="none" stroke="#000" stroke-width="2.7" stroke-linejoin="round"/><path d="M283 821.5 H294.8" fill="none" stroke="#000" stroke-width="1.8" stroke-linejoin="round"/><g clip-path="url(#c22)" stroke="#000" stroke-width="2.2"><line x1="245.90" y1="746" x2="268.40" y2="768.5"/><line x1="258.60" y1="746" x2="281.10" y2="768.5"/><line x1="271.30" y1="746" x2="293.80" y2="768.5"/><line x1="284.00" y1="746" x2="306.50" y2="768.5"/><line x1="296.70" y1="746" x2="319.20" y2="768.5"/><line x1="309.40" y1="746" x2="331.90" y2="768.5"/><line x1="322.10" y1="746" x2="344.60" y2="768.5"/><line x1="334.80" y1="746" x2="357.30" y2="768.5"/><line x1="347.50" y1="746" x2="370.00" y2="768.5"/><line x1="360.20" y1="746" x2="382.70" y2="768.5"/><line x1="372.90" y1="746" x2="395.40" y2="768.5"/><line x1="385.60" y1="746" x2="408.10" y2="768.5"/><line x1="398.30" y1="746" x2="420.80" y2="768.5"/><line x1="411.00" y1="746" x2="433.50" y2="768.5"/><line x1="423.70" y1="746" x2="446.20" y2="768.5"/></g><path d="M295 748.9 H381" fill="none" stroke="#000" stroke-width="2.2" stroke-linejoin="round"/><path d="M295 765.9 H381" fill="none" stroke="#000" stroke-width="2.2" stroke-linejoin="round"/><path d="M298.2 748 V766.5" fill="none" stroke="#000" stroke-width="1.8" stroke-linejoin="round"/><polygon points="294.8,735.9 305.2,748.3 294.8,748.3" fill="#000"/><polygon points="294.8,765 305.2,767 294.8,778.5" fill="#000"/><path d="M366.9 726.9 V768.4 M366.9 770.1 V801.8 M366.9 803 V824.1" fill="none" stroke="#000" stroke-width="1.8" stroke-linejoin="round"/><path d="M379.4 733.5 L380.2 742 L381.2 750 L381.4 758 L380.5 766 L379.8 775 L380.5 790 L380.8 805 L380.2 815 L378.5 820 L372 820.5 L362 819.8 L350 818.6 L340 818.5 L330 821.5 L320 820.3 L310 818.7 L300 820 L294.8 820.3" fill="none" stroke="#000" stroke-width="1.8" stroke-linejoin="round"/><g clip-path="url(#c23)" stroke="#000" stroke-width="2.3"><line x1="384.15" y1="731.2" x2="403.89" y2="754.7"/><line x1="396.85" y1="731.2" x2="416.59" y2="754.7"/><line x1="409.55" y1="731.2" x2="429.29" y2="754.7"/><line x1="422.25" y1="731.2" x2="441.99" y2="754.7"/><line x1="434.95" y1="731.2" x2="454.69" y2="754.7"/><line x1="447.65" y1="731.2" x2="467.39" y2="754.7"/><line x1="460.35" y1="731.2" x2="480.09" y2="754.7"/><line x1="473.05" y1="731.2" x2="492.79" y2="754.7"/><line x1="485.75" y1="731.2" x2="505.49" y2="754.7"/><line x1="498.45" y1="731.2" x2="518.19" y2="754.7"/><line x1="511.15" y1="731.2" x2="530.89" y2="754.7"/><line x1="523.85" y1="731.2" x2="543.59" y2="754.7"/><line x1="536.55" y1="731.2" x2="556.29" y2="754.7"/><line x1="549.25" y1="731.2" x2="568.99" y2="754.7"/><line x1="561.95" y1="731.2" x2="581.69" y2="754.7"/></g><rect x="433.1" y="734.55" width="90.9" height="16.8" fill="none" stroke="#000" stroke-width="2.7"/><g clip-path="url(#c24)" stroke="#000" stroke-width="2.5"><line x1="354.36" y1="823.7" x2="423.71" y2="750.7"/><line x1="362.96" y1="823.7" x2="432.31" y2="750.7"/><line x1="371.56" y1="823.7" x2="440.91" y2="750.7"/><line x1="380.17" y1="823.7" x2="449.51" y2="750.7"/><line x1="388.77" y1="823.7" x2="458.12" y2="750.7"/><line x1="397.37" y1="823.7" x2="466.72" y2="750.7"/><line x1="405.97" y1="823.7" x2="475.32" y2="750.7"/><line x1="414.57" y1="823.7" x2="483.92" y2="750.7"/><line x1="423.17" y1="823.7" x2="492.52" y2="750.7"/><line x1="431.77" y1="823.7" x2="501.12" y2="750.7"/><line x1="440.37" y1="823.7" x2="509.72" y2="750.7"/><line x1="448.97" y1="823.7" x2="518.32" y2="750.7"/><line x1="457.57" y1="823.7" x2="526.92" y2="750.7"/><line x1="466.17" y1="823.7" x2="535.52" y2="750.7"/><line x1="474.77" y1="823.7" x2="544.12" y2="750.7"/><line x1="483.37" y1="823.7" x2="552.72" y2="750.7"/><line x1="491.97" y1="823.7" x2="561.32" y2="750.7"/><line x1="500.57" y1="823.7" x2="569.92" y2="750.7"/><line x1="509.17" y1="823.7" x2="578.52" y2="750.7"/><line x1="517.77" y1="823.7" x2="587.12" y2="750.7"/><line x1="526.37" y1="823.7" x2="595.72" y2="750.7"/><line x1="534.97" y1="823.7" x2="604.32" y2="750.7"/><line x1="543.57" y1="823.7" x2="612.92" y2="750.7"/></g><path d="M446.6 752.7 V821.7 M456.6 752.7 V821.7" fill="none" stroke="#000" stroke-width="2.8" stroke-linejoin="round"/><path d="M445.2 821 H458" fill="none" stroke="#000" stroke-width="1.6" stroke-linejoin="round"/><polygon points="435.7,752.7 448,752.7 448,757 443.5,764 443.5,764" fill="#000"/><polygon points="455.7,752.7 468.4,752.7 458,764 455.7,764" fill="#000"/><path d="M508.8 726.9 V769.6 M508.8 771.3 V801.8 M508.8 803 V824.1" fill="none" stroke="#000" stroke-width="1.8" stroke-linejoin="round"/><path d="M524.2 752.5 L524.6 762 L524 775 L524.5 790 L525.2 800 L524.6 812 L521 818.9 L510 819 L500 819.5 L490 821 L483 821.8 L478 821.2 L470 819 L465 818.7 L458 820.5" fill="none" stroke="#000" stroke-width="1.8" stroke-linejoin="round"/></svg>
</body></html>
